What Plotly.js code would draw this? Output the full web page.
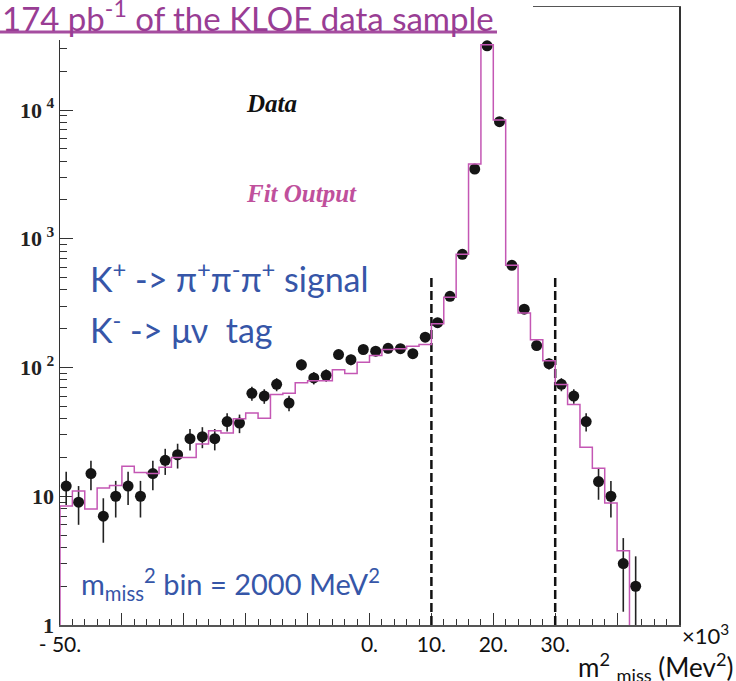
<!DOCTYPE html>
<html><head><meta charset="utf-8">
<script src="https://cdn.plot.ly/plotly-3.0.1.min.js"></script>
<style>html,body{margin:0;padding:0;background:#fff}#chart{width:736px;height:681px}</style>
</head><body><div id="chart"></div>
<script>
// ---- data (m^2_miss in units of 10^3 MeV^2, bin width 2) ----
const binCenters = [-49,-47,-45,-43,-41,-39,-37,-35,-33,-31,-29,-27,-25,-23,-21,-19,-17,-15,-13,-11,-9,-7,-5,-3,-1,1,3,5,7,9,11,13,15,17,19,21,23,25,27,29,31,33,35,37,39,41,43];
const dataCounts = [12,9,15,7,10,12,10,15,19,21,28,29,28,38,37,63,60,74,53,105,83,87,126,115,138,134,141,140,128,172,223,357,757,3475,31500,8110,622,284,148,107,74,60,38,13,10,3,2];
const fitCenters = [-49,-47,-45,-43,-41,-39,-37,-35,-33,-31,-29,-27,-25,-23,-21,-19,-17,-15,-13,-11,-9,-7,-5,-3,-1,1,3,5,7,9,11,13,15,17,19,21,23,25,27,29,31,33,35,37,39,41];
const fitValues = [8.4,11.0,7.95,11.6,12.1,17.1,15.3,15.0,16.8,20.0,20.0,25.5,32.3,31,39.9,44.4,40.3,61.6,63.1,76,79,79,96,90,110,124,138,140,146,151,219,352,757,3800,32060,8360,622,265,164,113,73.8,51.5,24,16.5,8.86,3.77];
const binWidth = 2;
const cutPositions = [10, 30];
const cutTop = 520;
const xTickVals = [-50,-40,-30,-20,-10,0,10,20,30,40,50];
const xTickText = ['- 50.','','','','','0.','10.','20.','30.','',''];
const yTickVals = [1,10,100,1000,10000];
const yTickText = ['1','10','10\u2009<sup>2</sup>','10\u2009<sup>3</sup>','10\u2009<sup>4</sup>'];

// ---- derived drawing arrays ----
const dataErr = dataCounts.map(v => Math.sqrt(v));
const floorVal = 0.1; // below axis, to draw edges down to the frame
const fitX = [fitCenters[0] - binWidth/2].concat(fitCenters.map(c => c - binWidth/2), [fitCenters[fitCenters.length-1] + binWidth/2]);
const fitY = [floorVal].concat(fitValues, [floorVal]);
const cutX = [], cutY = [];
cutPositions.forEach((c, i) => { if (i) { cutX.push(null); cutY.push(null); } cutX.push(c, c); cutY.push(1, cutTop); });
const yMinor = [];
[1,10,100,1000,10000].forEach(d => { for (let k = 2; k <= 9; k++) yMinor.push(k*d); });

// pixel -> paper helpers (plot area 60..679 x 7..625)
const L = 60, R = 679, T = 7, B = 625;
const px = p => (p - L) / (R - L);
const py = p => (B - p) / (B - T);

const traces = [
  { x: binCenters, y: dataCounts, type: 'scatter', mode: 'markers',
    marker: { size: 11, color: '#151515' },
    error_y: { type: 'data', array: dataErr, visible: true, width: 0, thickness: 1.6, color: '#222' },
    hoverinfo: 'skip' },
  { x: cutX, y: cutY, type: 'scatter', mode: 'lines',
    line: { color: '#111', width: 2.5, dash: '9px,4px' }, hoverinfo: 'skip' },
  { x: fitX, y: fitY, type: 'scatter', mode: 'lines',
    line: { color: '#c457b4', width: 1.5, shape: 'hv' }, hoverinfo: 'skip' }
];

const sans = 'Lato, "Open Sans", sans-serif';
const serif = '"Liberation Serif", "DejaVu Serif", serif';
const blue = '#3656a8';

const layout = {
  width: 736, height: 681,
  margin: { l: L, r: 736 - R, t: T, b: 681 - B, pad: 0 },
  paper_bgcolor: '#fff', plot_bgcolor: '#fff',
  showlegend: false,
  xaxis: {
    range: [-50, 50], tickmode: 'array', tickvals: xTickVals, ticktext: xTickText,
    ticks: 'inside', ticklen: 12, tickwidth: 1, tickcolor: '#333',
    minor: { ticks: 'inside', ticklen: 6, tickwidth: 1, tickcolor: '#333', tickmode: 'linear', tick0: -50, dtick: 2 },
    showline: true, linecolor: '#555', linewidth: 1.5, mirror: true,
    showgrid: false, zeroline: false, layer: 'below traces',
    tickfont: { family: sans, size: 21, color: '#111' }
  },
  yaxis: {
    type: 'log', range: [0, 4.8], tickmode: 'array', tickvals: yTickVals, ticktext: yTickText,
    ticks: 'inside', ticklen: 13, tickwidth: 1, tickcolor: '#333',
    minor: { ticks: 'inside', ticklen: 7, tickwidth: 1, tickcolor: '#333', tickmode: 'array', tickvals: yMinor },
    showline: true, linecolor: '#333', linewidth: 1.5, mirror: true,
    showgrid: false, zeroline: false, layer: 'below traces',
    tickfont: { family: serif, size: 22, color: '#222', weight: 'bold' }
  },
  shapes: [
    { type: 'rect', xref: 'paper', yref: 'paper', x0: px(0), x1: px(533), y0: py(40), y1: py(-5),
      fillcolor: '#fff', line: { width: 0 }, layer: 'above' },
    { type: 'line', xref: 'paper', yref: 'paper', x0: px(0), x1: px(497), y0: py(32), y1: py(32),
      line: { color: '#a54da0', width: 3 }, layer: 'above' }
  ],
  annotations: [
    { xref: 'paper', yref: 'paper', x: px(0), y: py(16), xanchor: 'left', yanchor: 'middle', showarrow: false,
      text: '174 pb<sup>-1</sup> of the KLOE data sample', font: { family: sans, size: 33, color: '#993d94' } },
    { xref: 'paper', yref: 'paper', x: px(271), y: py(103), xanchor: 'center', yanchor: 'middle', showarrow: false,
      text: 'Data', font: { family: serif, size: 25, color: '#111', weight: 'bold', style: 'italic' } },
    { xref: 'paper', yref: 'paper', x: px(301), y: py(193), xanchor: 'center', yanchor: 'middle', showarrow: false,
      text: 'Fit Output', font: { family: serif, size: 25, color: '#c0509c', weight: 'bold', style: 'italic' } },
    { xref: 'paper', yref: 'paper', x: px(88), y: py(277), xanchor: 'left', yanchor: 'middle', showarrow: false,
      text: 'K<sup>+</sup> -> \u03c0<sup>+</sup>\u03c0<sup>-</sup>\u03c0<sup>+</sup> signal', font: { family: sans, size: 34, color: blue } },
    { xref: 'paper', yref: 'paper', x: px(88), y: py(328), xanchor: 'left', yanchor: 'middle', showarrow: false,
      text: 'K<sup>-</sup> -> \u03bc\u03bd\u00a0\u00a0tag', font: { family: sans, size: 34, color: blue } },
    { xref: 'paper', yref: 'paper', x: px(79), y: py(584), xanchor: 'left', yanchor: 'middle', showarrow: false,
      text: 'm<sub>miss</sub><sup>2</sup> bin = 2000 MeV<sup>2</sup>', font: { family: sans, size: 29, color: blue } },
    { xref: 'paper', yref: 'paper', x: px(680), y: py(634), xanchor: 'left', yanchor: 'middle', showarrow: false,
      text: '\u00d710<sup>3</sup>', font: { family: sans, size: 22, color: '#111' } },
    { xref: 'paper', yref: 'paper', x: px(735), y: py(667), xanchor: 'right', yanchor: 'middle', showarrow: false,
      text: 'm<sup>2</sup> <sub>miss</sub> (Mev<sup>2</sup>)', font: { family: sans, size: 26, color: '#111' } }
  ]
};

Plotly.newPlot('chart', traces, layout, { staticPlot: true, displayModeBar: false });
</script></body></html>
